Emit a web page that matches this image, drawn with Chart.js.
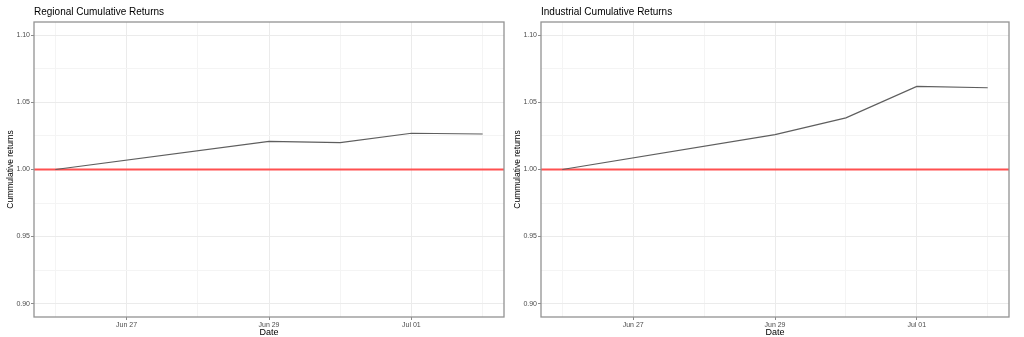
<!DOCTYPE html>
<html><head><meta charset="utf-8">
<script src="https://cdn.jsdelivr.net/npm/chart.js@4/dist/chart.umd.min.js"></script>
<style>
html,body{margin:0;padding:0;background:#fff;}
#wrap{position:relative;width:1024px;height:337px;overflow:hidden;background:#fff;}
canvas{position:absolute;top:0;}
</style></head><body>
<div id="wrap">
<canvas id="c1" width="507" height="337" style="left:0px"></canvas>
<canvas id="c2" width="517" height="337" style="left:507px"></canvas>
</div>
<script>
// ---- data ----
const dates = ["2020-06-26","2020-06-29","2020-06-30","2020-07-01","2020-07-02"];
const regionalReturns = [1.000, 1.021, 1.020, 1.027, 1.0265];
const industrialReturns = [1.000, 1.026, 1.0385, 1.062, 1.061];
const yTickValues = [0.90, 0.95, 1.00, 1.05, 1.10];
const xTickDates = ["2020-06-27","2020-06-29","2020-07-01"];
const xTickLabels = ["Jun 27","Jun 29","Jul 01"];
const baseline = 1.00;
const panelTitles = ["Regional Cumulative Returns","Industrial Cumulative Returns"];
const xTitle = "Date";
const yTitle = "Cummulative returns";

// ---- helpers ----
const FONT = "'Liberation Sans', Arial, sans-serif";
const origin = Date.parse(dates[0]);
const dayOf = s => (Date.parse(s) - origin) / 86400000;
const xs = dates.map(dayOf);
const xSpan = Math.max(...xs) - Math.min(...xs);
const xMin = Math.min(...xs) - 0.05 * xSpan;
const xMax = Math.max(...xs) + 0.05 * xSpan;
const ySpan = yTickValues[yTickValues.length-1] - yTickValues[0];
const yMin = yTickValues[0] - 0.05 * ySpan;
const yMax = yTickValues[yTickValues.length-1] + 0.05 * ySpan;

const xMajors = xTickDates.map(dayOf);
const xStep = xMajors[1] - xMajors[0];
const xMinors = [xMajors[0] - xStep/2, ...xMajors.map(v => v + xStep/2)].filter(v => v >= xMin && v <= xMax);
const yStep = yTickValues[1] - yTickValues[0];
const yMinors = yTickValues.slice(0, -1).map(v => v + yStep/2);
const near = (a, b) => Math.abs(a - b) < 1e-6;
const isXMajor = v => xMajors.some(m => near(m, v));
const isYMajor = v => yTickValues.some(m => near(m, v));

const borderPlugin = {
  id: 'panelBorder',
  afterDraw(chart) {
    const {ctx, chartArea: a} = chart;
    ctx.save();
    ctx.strokeStyle = '#939393';
    ctx.lineWidth = 1.3;
    ctx.strokeRect(a.left, a.top, a.right - a.left, a.bottom - a.top);
    ctx.restore();
  }
};

function makeChart(id, values, title, padRight) {
  return new Chart(document.getElementById(id), {
    type: 'line',
    data: {
      datasets: [
        {
          data: xs.map((x, i) => ({x, y: values[i]})),
          borderColor: '#5e5e5e',
          borderWidth: 1.15,
          pointRadius: 0,
          tension: 0,
          fill: false
        },
        {
          data: [{x: xMin, y: baseline}, {x: xMax, y: baseline}],
          borderColor: '#ff5050',
          borderWidth: 1.8,
          pointRadius: 0,
          tension: 0,
          fill: false
        }
      ]
    },
    options: {
      responsive: false,
      animation: false,
      devicePixelRatio: 1,
      layout: {padding: {left: 0, right: padRight, top: 0, bottom: 0}},
      plugins: {
        legend: {display: false},
        tooltip: {enabled: false},
        title: {
          display: true,
          text: title,
          align: 'start',
          fullSize: false,
          color: '#000000',
          font: {family: FONT, size: 10, weight: 'normal', lineHeight: 1.2},
          padding: {top: 6, bottom: 4}
        }
      },
      scales: {
        x: {
          type: 'linear',
          min: xMin,
          max: xMax,
          afterBuildTicks: s => { s.ticks = [...xMajors, ...xMinors].sort((a,b)=>a-b).map(v => ({value: v})); },
          afterFit: s => { s.height = 20; },
          border: {display: false},
          grid: {
            color: c => isXMajor(c.tick.value) ? '#ebebeb' : '#f4f4f4',
            lineWidth: 1,
            tickLength: 3,
            tickColor: c => isXMajor(c.tick.value) ? '#8c8c8c' : 'rgba(0,0,0,0)'
          },
          ticks: {
            autoSkip: false,
            maxRotation: 0,
            padding: 1,
            color: '#4d4d4d',
            font: {family: FONT, size: 7},
            callback: v => { const i = xMajors.findIndex(m => near(m, v)); return i >= 0 ? xTickLabels[i] : ''; }
          },
          title: {
            display: true,
            text: xTitle,
            color: '#000000',
            font: {family: FONT, size: 9, lineHeight: 1},
            padding: {top: 0, bottom: 0}
          }
        },
        y: {
          type: 'linear',
          min: yMin,
          max: yMax,
          afterBuildTicks: s => { s.ticks = [...yTickValues, ...yMinors].sort((a,b)=>a-b).map(v => ({value: v})); },
          afterFit: s => { s.width = 34; },
          border: {display: false},
          grid: {
            color: c => isYMajor(c.tick.value) ? '#ebebeb' : '#f4f4f4',
            lineWidth: 1,
            tickLength: 3,
            tickColor: c => isYMajor(c.tick.value) ? '#8c8c8c' : 'rgba(0,0,0,0)'
          },
          ticks: {
            autoSkip: false,
            padding: 1,
            color: '#4d4d4d',
            font: {family: FONT, size: 7},
            callback: v => isYMajor(v) ? v.toFixed(2) : ''
          },
          title: {
            display: true,
            text: yTitle,
            color: '#000000',
            font: {family: FONT, size: 8.5, lineHeight: 1},
            padding: {top: 6, bottom: 0}
          }
        }
      }
    },
    plugins: [borderPlugin]
  });
}

makeChart('c1', regionalReturns, panelTitles[0], 3);
makeChart('c2', industrialReturns, panelTitles[1], 15);
</script>
</body></html>
